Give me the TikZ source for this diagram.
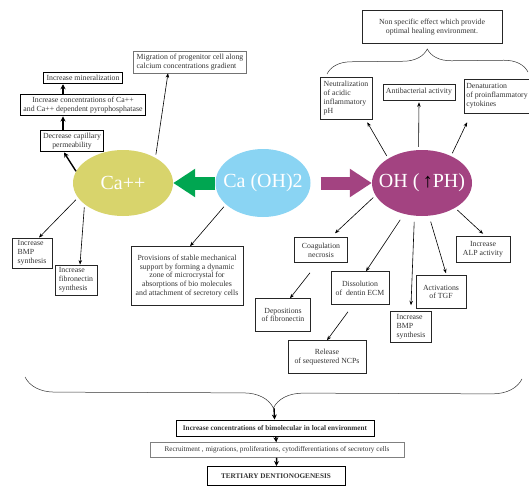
\documentclass[tikz,border=0pt]{standalone}
\usepackage{fontspec}
\setmainfont{Liberation Serif}
\usetikzlibrary{arrows.meta,decorations.pathreplacing,shapes.geometric}
\definecolor{caYellow}{HTML}{D8D46C}
\definecolor{caBlue}{HTML}{8AD4F3}
\definecolor{ohPurple}{HTML}{A34381}
\definecolor{arrGreen}{HTML}{00A651}
\tikzset{
  box/.style={draw=black!85, line width=0.5pt, align=center, inner sep=3pt,
    font=\fontsize{7.8}{8.8}\selectfont, text=black!80},
  thickbox/.style={box, line width=1pt, draw=black},
  lbox/.style={box, align=left},
  foot/.style={font=\fontsize{7.2}{8}\selectfont},
  blob/.style={ellipse, minimum width=100pt, minimum height=66pt, inner sep=0pt},
  blobtext/.style={text=white, font=\fontsize{20}{22}\selectfont},
  arr/.style={-{Stealth[length=4.5pt,width=3.5pt]}, line width=0.6pt, shorten <=3pt},
  bigarr/.style={-{Stealth[length=5pt,width=5pt]}, line width=1.4pt},
  fat/.style={line width=13pt, -{Triangle[length=22pt,width=27pt]}},
  bracket/.style={decorate, line width=0.5pt, draw=black!80},
}
\begin{document}
\begin{tikzpicture}[x=1pt, y=-1pt]
\useasboundingbox (0,0) rectangle (529,490);

% the three ions
\node[blob, fill=caYellow, label={[blobtext]center:Ca++}] (ca) at (123,183) {};
\node[blob, fill=caBlue, minimum width=95pt, minimum height=68pt, label={[blobtext]center:Ca (OH)2}] (caoh) at (263,183) {};
\node[blob, fill=ohPurple, label={[blobtext]center:OH (\,{\color{black}\textbf{↑}}PH)}] (oh) at (422,183) {};
\draw[fat, arrGreen] (caoh.west) -- (ca.east);
\draw[fat, ohPurple, shorten <=10pt] (caoh.east) -- (oh.west);

% calcium side
\node[thickbox] (mine) at (83,78) {Increase mineralization};
\node[thickbox] (conc) at (83,105) {Increase concentrations of Ca++\\and Ca++ dependent pyrophosphatase};
\node[thickbox] (perm) at (72,141) {Decrease capillary\\permeability};
\node[lbox, draw=black!55] (migr) at (190,62) {Migration of progenitor cell along\\calcium concentrations gradient};
\node[lbox, minimum width=40pt] (bmpl) at (32,253) {Increase\\BMP\\synthesis};
\node[lbox, minimum width=42pt] (fibl) at (76,280) {Increase\\fibronectin\\synthesis};
\node[box, minimum width=112pt, minimum height=59pt] (prov) at (187,276) {Provisions of stable mechanical\\support by forming a dynamic\\zone of microcrystal for\\absorptions of bio molecules\\and attachment of secretory cells};

\draw[bigarr] (ca.166) -- ([xshift=-8pt]perm.south);
\draw[bigarr] ([xshift=-9pt]perm.north) -- ([xshift=-9pt]perm.north |- conc.south);
\draw[bigarr] ([xshift=-20pt]conc.north) -- ([xshift=-20pt]conc.north |- mine.south);
\draw[arr] (ca.38) -- ([xshift=-22pt]migr.south);
\draw[arr] (ca.198) -- ([xshift=7pt]bmpl.north);
\draw[arr] (ca.209) -- ([xshift=4pt]fibl.north);
\draw[arr] (caoh.210) -- ([xshift=3pt]prov.north);

% hydroxyl side, top
\node[box, minimum width=140pt, minimum height=33pt] (nonsp) at (432,27) {Non specific effect which provide\\optimal healing environment.};
\node[lbox, minimum width=52pt, minimum height=42pt, inner sep=2pt] (neut) at (346,98) {Neutralization\\of acidic\\inflammatory\\pH};
\node[box, minimum width=72pt, minimum height=16pt, inner sep=2pt] (anti) at (419,92) {Antibacterial activity};
\node[lbox, minimum width=64pt, minimum height=34pt, inner sep=2pt] (denat) at (497,96) {Denaturation\\of proinflammatory\\cytokines};
\coordinate (tbl) at (327,74);
\coordinate (tbr) at (528,72);
\draw[bracket, decoration={brace, amplitude=24pt}] (tbl) -- (tbr);

\draw[arr] (oh.144) -- ([xshift=-5pt,yshift=-3pt]neut.south east);
\draw[arr] (oh.96) -- ([yshift=-2pt]anti.south);
\draw[arr] (oh.43) -- ([xshift=3pt,yshift=-9pt]denat.south west);

% hydroxyl side, bottom
\node[box, minimum width=53pt, minimum height=25pt] (coag) at (321,250) {Coagulation\\necrosis};
\node[box, minimum width=55pt, minimum height=33pt] (depo) at (283,315) {Depositions\\of fibronectin};
\node[box, minimum width=58pt, minimum height=33pt] (diss) at (360,288) {Dissolution\\of\ \ dentin ECM};
\node[box, minimum width=78pt, minimum height=33pt] (rel) at (327,357) {Release\\of sequestered NCPs};
\node[lbox, minimum width=41pt, minimum height=31pt, inner sep=2pt] (bmpr) at (411,327) {Increase\\BMP\\synthesis};
\node[box, minimum width=50pt, minimum height=33pt] (tgf) at (441,292) {Activations\\of TGF};
\node[box, minimum width=54pt, minimum height=26pt] (alp) at (483,249) {Increase\\ALP activity};

\draw[arr] (oh.195) -- ([xshift=14pt,yshift=4pt]coag.north);
\draw[arr, shorten <=7pt] (oh.240) -- ([xshift=6pt]diss.north);
\draw[arr, shorten <=6pt] (oh.257) -- ([yshift=6pt]bmpr.north);
\draw[arr, shorten <=6pt] (oh.282) -- ([xshift=5pt,yshift=2pt]tgf.north);
\draw[arr] (oh.323) -- ([yshift=2pt]alp.north);
\draw[arr, shorten <=0pt] ([xshift=-11pt,yshift=-10pt]coag.south) -- ([xshift=7pt]depo.north);
\draw[arr, shorten <=0pt] ([xshift=-12pt,yshift=-7pt]diss.south) -- (rel.north);

% common outcome
\coordinate (bbl) at (25,377);
\coordinate (bbr) at (522,379);
\coordinate (btip) at (274,408);
\draw[bracket, decoration={brace, amplitude=30pt, mirror}] (bbl) -- (bbr);
\node[thickbox, foot, minimum width=198pt, minimum height=16pt] (biom) at (275,428) {\textbf{Increase concentrations of bimolecular in local environment}};
\node[box, foot, draw=black!50, minimum width=254pt, minimum height=15pt, inner sep=1pt] (recr) at (277,450) {Recruitment , migrations, proliferations, cytodifferentiations of secretory cells};
\node[thickbox, foot, minimum width=138pt, minimum height=19pt] (tert) at (276,476) {\textbf{TERTIARY DENTIONOGENESIS}};
\draw[bigarr] (btip) -- (biom);
\draw[bigarr] (biom) -- (recr);
\draw[bigarr] (recr) -- (tert);
\end{tikzpicture}
\end{document}
